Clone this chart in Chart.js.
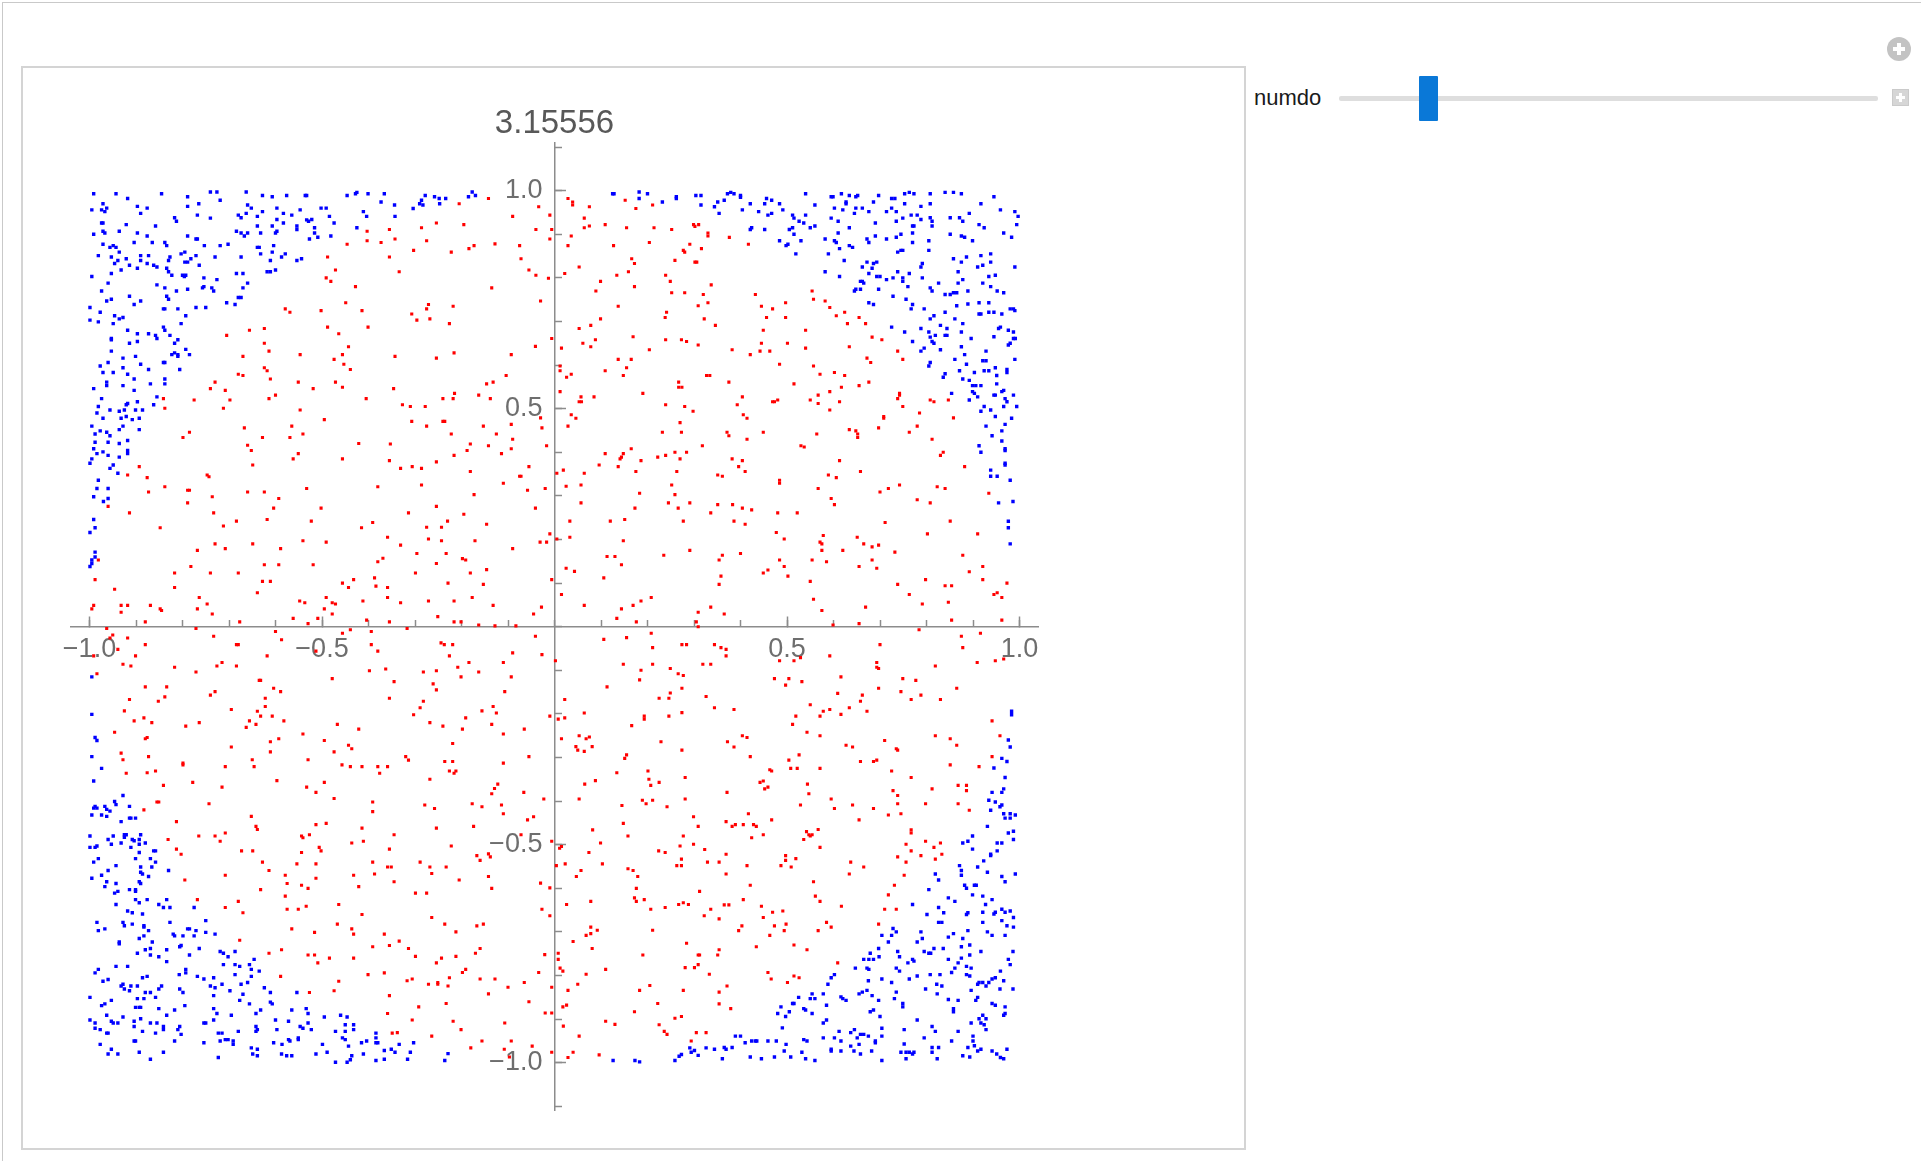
<!DOCTYPE html>
<html>
<head>
<meta charset="utf-8">
<title>numdo</title>
<script src="https://cdn.jsdelivr.net/npm/chart.js@4.4.1/dist/chart.umd.min.js"></script>
<style>
html, body { margin: 0; padding: 0; background: #fff; }
body { width: 1921px; height: 1161px; position: relative; overflow: hidden; font-family: "Liberation Sans", Arial, sans-serif; }
#frame { position: absolute; left: 2px; top: 2px; width: 1960px; height: 1200px; border-top: 1px solid #c9c9c9; border-left: 1px solid #c9c9c9; }
#panel { position: absolute; left: 21px; top: 66px; width: 1221px; height: 1080px; border: 2px solid #d4d4d4; }
#numdo { position: absolute; left: 1254px; top: 85px; font-size: 22px; line-height: 26px; color: #1a1a1a; }
#track { position: absolute; left: 1339px; top: 96px; width: 539px; height: 5px; background: #dedede; border-radius: 2px; }
#thumb { position: absolute; left: 1419px; top: 76px; width: 19px; height: 45px; background: #0a78d7; border-radius: 1px; }
#plus { position: absolute; left: 1887px; top: 37px; width: 24px; height: 24px; border-radius: 50%; background: #c3c3c3; }
#mini { position: absolute; left: 1892px; top: 89px; width: 15px; height: 15px; background: #d6d6d6; border: 1px solid #cacaca; }
.h, .v { position: absolute; background: #fff; }
#plus .h { left: 6px; top: 10px; width: 12px; height: 4px; }
#plus .v { left: 10px; top: 6px; width: 4px; height: 12px; }
#mini .h { left: 3px; top: 6px; width: 9px; height: 3px; }
#mini .v { left: 6px; top: 3px; width: 3px; height: 9px; }
#mycanvas { position: absolute; left: 0; top: 0; }
</style>
</head>
<body>
<div id="frame"></div>
<div id="panel"></div>
<div id="numdo">numdo</div>
<div id="track"></div>
<div id="thumb"></div>
<div id="plus"><span class="h"></span><span class="v"></span></div>
<div id="mini"><span class="h"></span><span class="v"></span></div>
<canvas id="mycanvas" width="1921" height="1161"></canvas>
<script>
// values (estimates)
var estimate = '3.15556';

var xMajorTicks = [-1, -0.5, 0.5, 1];
var xMajorLabels = ['\u22121.0', '\u22120.5', '0.5', '1.0'];
var yMajorTicks = [-1, -0.5, 0.5, 1];
var yMajorLabels = ['\u22121.0', '\u22120.5', '0.5', '1.0'];
var xMinorTicks = [-1, -0.9, -0.8, -0.7, -0.6, -0.5, -0.4, -0.3, -0.2, -0.1, 0, 0.1, 0.2, 0.3, 0.4, 0.5, 0.6, 0.7, 0.8, 0.9, 1];
var yMinorTicks = [-1.1, -1, -0.9, -0.8, -0.7, -0.6, -0.5, -0.4, -0.3, -0.2, -0.1, 0, 0.1, 0.2, 0.3, 0.4, 0.5, 0.6, 0.7, 0.8, 0.9, 1, 1.1];

// points inside the unit circle (red)
var insidePts = [
[-.403,.907],[-.355,.911],[-.403,.885],[-.373,.881],[-.343,.889],[-.446,.877],[-.488,.848],[-.355,.848],[-.471,.818],[-.491,.800],[-.481,.792],[-.428,.780],[-.449,.743],[-.579,.729],[-.569,.721],[-.502,.725],[-.414,.725],[-.705,.668],[-.656,.680],[-.624,.684],[-.488,.687],[-.464,.672],[-.401,.687],[-.624,.650],[-.614,.632],[-.443,.642],[-.670,.620],[-.547,.624],[-.456,.624],[-.474,.613],[-.343,.620],[-.624,.594],[-.618,.587],[-.453,.602],[-.439,.590],[-.680,.579],[-.670,.576],[-.611,.568],[-.730,.561],[-.740,.546],[-.708,.542],[-.551,.561],[-.471,.561],[-.456,.549],[-.519,.546],[-.346,.546],[-.841,.523],[-.838,.501],[-.775,.520],[-.698,.520],[-.712,.501],[-.614,.523],[-.600,.531],[-.405,.523],[-.547,.497],[-.495,.475],[-.667,.456],[-.565,.460],[-.785,.446],[-.799,.434],[-.628,.434],[-.569,.434],[-.541,.442],[-.660,.416],[-.652,.404],[-.421,.420],[-.353,.419],[-.551,.397],[-.562,.385],[-.456,.385],[-.355,.381],[-.649,.371],[-.893,.367],[-.918,.348],[-.747,.348],[-.743,.344],[-.876,.342],
[-.142,.982],[-.205,.970],[-.286,.915],[-.254,.926],[-.195,.922],[-.275,.885],[-.303,.863],[-.222,.859],[-.184,.867],[-.173,.874],[-.128,.878],[-.090,.941],[-.034,.963],[-.010,.944],[-.040,.911],[-.006,.911],[-.010,.889],[-.075,.874],[-.072,.844],[-.055,.818],[-.040,.806],[-.013,.799],[-.334,.814],[-.135,.777],[-.030,.747],[-.307,.717],[-.296,.703],[-.275,.729],[-.271,.739],[-.268,.706],[-.218,.735],[-.226,.695],[-.254,.616],[-.216,.628],[-.093,.624],[-.041,.643],[-.006,.661],[-.104,.576],[-.146,.557],[-.132,.561],[-.163,.531],[-.138,.523],[-.240,.523],[-.218,.523],[-.215,.535],[-.327,.509],[-.310,.505],[-.278,.505],[-.307,.471],[-.275,.460],[-.240,.471],[-.236,.471],[-.222,.442],[-.153,.460],[-.125,.442],[-.093,.464],[-.090,.430],[-.030,.479],[-.027,.456],[-.017,.415],[-.254,.378],[-.216,.393],[-.188,.404],[-.181,.419],[-.142,.415],[-.114,.397],[-.093,.408],[-.331,.363],[-.306,.367],[-.286,.363],[-.181,.356],[-.075,.345],[-.072,.345],[-.055,.367],
[.029,.982],[.039,.974],[.039,.967],[.075,.963],[.152,.978],[.175,.959],[.211,.967],[.064,.937],[.064,.915],[.075,.919],[.109,.922],[.155,.915],[.214,.915],[.252,.911],[.299,.922],[.302,.918],[.310,.922],[.330,.903],[.330,.896],[.036,.896],[.029,.874],[.127,.874],[.204,.881],[.277,.863],[.280,.859],[.291,.877],[.316,.867],[.259,.840],[.302,.836],[.306,.836],[.166,.844],[.172,.833],[.053,.825],[.022,.810],[.134,.806],[.159,.814],[.239,.806],[.249,.792],[.099,.792],[.089,.770],[.172,.780],[.252,.766],[.280,.766],[.320,.762],[.337,.784],[.330,.743],[.309,.736],[.137,.735],[.241,.721],[.238,.709],[.322,.706],[.053,.684],[.078,.691],[.099,.706],[.061,.650],[.078,.642],[.088,.658],[.169,.665],[.204,.635],[.239,.658],[.273,.658],[.284,.654],[.309,.646],[.015,.639],[.012,.598],[.012,.587],[.026,.572],[.036,.579],[.109,.587],[.137,.613],[.148,.576],[.155,.594],[.165,.613],[.327,.576],[.334,.576],[.267,.561],[.267,.549],[.274,.549],[.190,.535],[.085,.527],[.057,.527],[.053,.516],[.058,.516],[.012,.539],[.036,.486],[.046,.478],[.029,.460],[.239,.509],[.280,.505],[.298,.494],[.270,.468],[.273,.446],[.232,.446],[.318,.415],[.109,.397],[.148,.397],[.165,.408],[.141,.385],[.144,.389],[.186,.381],[.222,.389],[.239,.393],[.259,.400],[.270,.385],[.284,.400],[.096,.371],[.137,.367],[.175,.356],[.263,.356],[.019,.359],[.005,.352],[.064,.352],
[.376,.893],[.417,.877],[.432,.762],[.445,.735],[.469,.729],[.497,.743],[.497,.709],[.456,.709],[.449,.680],[.346,.691],[.540,.680],[.445,.650],[.501,.650],[.540,.639],[.442,.632],[.463,.632],[.421,.624],[.382,.635],[.554,.770],[.557,.751],[.582,.747],[.592,.732],[.606,.713],[.624,.721],[.630,.695],[.655,.709],[.669,.695],[.683,.664],[.704,.658],[.634,.642],[.738,.632],[.749,.613],[.672,.616],[.680,.606],[.484,.602],[.557,.598],[.571,.579],[.602,.583],[.624,.576],[.655,.553],[.676,.561],[.617,.549],[.592,.539],[.567,.531],[.550,.520],[.567,.512],[.613,.516],[.592,.497],[.515,.557],[.375,.561],[.404,.527],[.393,.509],[.469,.516],[.473,.516],[.480,.520],[.406,.486],[.414,.478],[.742,.535],[.742,.531],[.738,.523],[.749,.505],[.808,.520],[.816,.516],[.847,.520],[.785,.490],[.858,.479],[.708,.482],[.708,.478],[.697,.456],[.634,.452],[.648,.449],[.652,.442],[.652,.434],[.564,.442],[.449,.446],[.371,.446],[.375,.438],[.414,.430],[.780,.460],[.763,.446],[.812,.430],[.530,.415],[.537,.412],[.836,.400],[.830,.393],[.882,.367],[.382,.385],[.404,.381],[.396,.367],[.410,.356],[.613,.381],[.658,.356],[.589,.348],[.606,.342],[.351,.348],[.361,.345],
[-.960,.276],[-.981,.153],[-.988,.108],[-.991,.049],[-.995,.041],[-.946,.086],[-.932,.049],[-.932,.033],[-.918,.049],[-.914,.261],[-.873,.309],[-.838,.321],[-.848,.227],[-.869,.049],[-.848,.041],[-.845,.037],[-.880,.011],[-.817,.123],[-.817,.090],[-.789,.313],[-.785,.313],[-.789,.284],[-.733,.261],[-.736,.298],[-.712,.231],[-.768,.175],[-.782,.138],[-.740,.123],[-.730,.190],[-.708,.179],[-.764,.067],[-.747,.052],[-.768,.041],[-.736,.029],[-.684,.242],[-.660,.309],[-.624,.309],[-.593,.294],[-.604,.272],[-.618,.246],[-.649,.190],[-.589,.179],[-.680,.123],[-.624,.142],[-.593,.142],[-.628,.104],[-.611,.104],[-.639,.078],[-.677,.011],[-.562,.019],[-.530,.007],[-.509,.019],[-.548,.059],[-.537,.055],[-.495,.041],[-.491,.067],[-.478,.055],[-.471,.052],[-.478,.029],[-.533,.317],[-.502,.272],[-.523,.242],[-.541,.197],[-.491,.194],[-.519,.142],[-.456,.100],[-.443,.090],[-.432,.108],[-.412,.059],[-.404,.015],[-.415,.227],[-.391,.239],[-.380,.321],[-.359,.205],[-.380,.149],[-.369,.157],[-.387,.112],[-.384,.093],[-.359,.090],[-.359,.067],[-.355,.011],
[-.963,-.004],[-.950,-.019],[-.956,-.026],[-.918,-.026],[-.939,-.052],[-.991,-.067],[-.984,-.108],[-.928,-.086],[-.911,-.090],[-.901,-.067],[-.880,-.041],[-.817,-.093],[-.771,-.004],[-.733,-.022],[-.771,-.104],[-.726,-.090],[-.715,-.082],[-.684,-.041],[-.680,-.041],[-.684,-.090],[-.618,-.067],[-.600,-.011],[-.587,-.030],[-.513,-.056],[-.456,-.015],[-.439,-.007],[-.394,-.011],[-.394,-.041],[-.380,-.056],[-.478,-.119],[-.398,-.101],[-.363,-.097],[-.345,-.126],[-.355,-.164],[-.635,-.123],[-.632,-.123],[-.604,-.141],[-.589,-.149],[-.622,-.164],[-.622,-.183],[-.639,-.194],[-.632,-.205],[-.607,-.205],[-.582,-.216],[-.695,-.190],[-.656,-.216],[-.663,-.231],[-.642,-.224],[-.740,-.157],[-.730,-.149],[-.764,-.220],[-.793,-.228],[-.834,-.138],[-.838,-.161],[-.852,-.171],[-.880,-.138],[-.914,-.167],[-.925,-.193],[-.904,-.216],[-.883,-.209],[-.866,-.220],[-.946,-.242],[-.876,-.254],[-.880,-.257],[-.932,-.290],[-.928,-.305],[-.873,-.298],[-.921,-.336],[-.876,-.335],[-.858,-.331],[-.799,-.313],[-.799,-.317],[-.708,-.321],[-.695,-.276],[-.650,-.305],[-.646,-.321],[-.611,-.264],[-.593,-.257],[-.611,-.287],[-.541,-.246],[-.530,-.305],[-.495,-.261],[-.474,-.287],[-.467,-.224],[-.421,-.235],[-.443,-.272],[-.436,-.280],[-.457,-.317],[-.439,-.321],[-.414,-.321],[-.380,-.321],[-.376,-.336],[-.359,-.321],
[-.286,.325],[-.110,.329],[-.058,.313],[-.020,.317],[-.173,.303],[-.254,.276],[-.314,.261],[-.195,.258],[-.041,.272],[-.230,.242],[-.275,.228],[-.243,.228],[-.146,.235],[-.271,.201],[-.243,.197],[-.171,.197],[-.331,.187],[-.296,.168],[-.233,.168],[-.090,.179],[-.031,.194],[-.017,.194],[-.010,.213],[.005,.201],[-.254,.145],[-.198,.156],[-.191,.153],[-.299,.123],[-.181,.123],[-.146,.131],[-.229,.100],[-.153,.097],[-.006,.108],[-.331,.055],[-.271,.059],[-.216,.059],[-.177,.067],[-.132,.049],[-.251,.023],[-.216,.011],[-.201,.011],[-.163,.004],[-.128,.002],[-.083,.002],[-.045,.029],[-.028,.045],[-.317,-.004],[.015,.074],[.025,.134],[.043,.127],[.025,.322],[.057,.325],[.057,.284],[.033,.242],[.033,.205],[.120,.242],[.151,.246],[.183,.306],[.173,.272],[.148,.197],[.113,.161],[.130,.161],[.144,.142],[.106,.112],[.064,.049],[.134,.019],[.144,.041],[.169,.049],[.186,.059],[.208,.067],[.176,.011],[.252,.325],[.259,.303],[.245,.284],[.266,.272],[.291,.284],[.336,.261],[.277,.242],[.235,.164],[.291,.175],[.309,.033],[.336,.045],[.305,.011],[.309,.000],
[-.244,-.037],[-.237,-.041],[-.219,-.041],[-.226,-.067],[-.041,-.022],[-.027,-.064],[-.090,-.060],[-.184,-.082],[-.208,-.093],[-.163,-.104],[-.201,-.115],[-.254,-.101],[-.282,-.104],[-.261,-.131],[-.254,-.145],[-.110,-.082],[-.093,-.115],[-.107,-.149],[-.282,-.171],[-.289,-.186],[-.303,-.202],[-.268,-.220],[-.240,-.228],[-.191,-.209],[-.198,-.235],[-.156,-.193],[-.132,-.183],[-.125,-.198],[-.135,-.224],[-.110,-.246],[-.065,-.235],[-.219,-.268],[-.320,-.298],[-.314,-.306],[-.236,-.309],[-.219,-.309],[-.226,-.331],[-.212,-.331],[-.216,-.336],[-.110,-.313],[-.055,-.298],[-.010,-.205],[.002,-.078],[.008,-.212],[.022,-.167],[.022,-.209],[.015,-.257],[.053,-.250],[.068,-.257],[.075,-.253],[.064,-.198],[.046,-.275],[.050,-.283],[.064,-.286],[.081,-.275],[.106,-.029],[.155,-.025],[.113,-.138],[.148,-.086],[.186,-.100],[.183,-.122],[.208,-.015],[.211,-.048],[.211,-.086],[.166,-.227],[.193,-.205],[.193,-.212],[.225,-.164],[.246,-.164],[.249,-.152],[.249,-.096],[.266,-.108],[.277,-.112],[.274,-.141],[.274,-.041],[.284,-.041],[.319,-.086],[.336,-.086],[.326,-.160],[.246,-.205],[.274,-.197],[.229,-.264],[.274,-.283],[.155,-.294],[.151,-.302],[.134,-.335],[.201,-.331],
[.484,.336],[.484,.329],[.567,.317],[.595,.294],[.602,.280],[.351,.280],[.383,.280],[.404,.272],[.424,.268],[.386,.242],[.410,.235],[.480,.261],[.522,.261],[.477,.216],[.494,.201],[.578,.209],[.571,.194],[.575,.190],[.575,.175],[.651,.205],[.665,.190],[.683,.183],[.697,.187],[.620,.175],[.732,.171],[.711,.239],[.700,.309],[.718,.317],[.742,.325],[.780,.291],[.808,.284],[.823,.321],[.840,.317],[.934,.306],[.851,.242],[.802,.213],[.910,.213],[.878,.164],[.921,.138],[.892,.126],[.921,.108],[.973,.100],[.945,.074],[.952,.078],[.962,.067],[.962,.015],[.354,.153],[.361,.164],[.400,.168],[.484,.153],[.494,.138],[.502,.116],[.449,.123],[.459,.130],[.358,.116],[.354,.097],[.365,.029],[.550,.104],[.554,.153],[.585,.149],[.557,.063],[.575,.037],[.599,.004],[.655,.138],[.683,.153],[.693,.134],[.669,.045],[.655,.007],[.738,.097],[.763,.074],[.798,.108],[.791,.052],[.840,.094],[.854,.094],[.847,.056],[.854,.015],
[.784,-.007],[.916,-.015],[.875,-.022],[.878,-.048],[.909,-.082],[.948,-.078],[.966,-.074],[.344,-.041],[.358,-.048],[.369,-.052],[.369,-.067],[.484,-.078],[.515,-.078],[.529,-.071],[.592,-.067],[.700,-.041],[.693,-.082],[.697,-.096],[.693,-.093],[.697,-.141],[.473,-.119],[.504,-.119],[.497,-.134],[.532,-.126],[.616,-.115],[.609,-.153],[.662,-.157],[.658,-.171],[.749,-.119],[.777,-.123],[.745,-.149],[.767,-.167],[.788,-.157],[.819,-.090],[.830,-.167],[.865,-.141],[.344,-.186],[.386,-.190],[.550,-.179],[.519,-.205],[.512,-.224],[.571,-.205],[.578,-.194],[.592,-.190],[.616,-.201],[.634,-.186],[.672,-.194],[.543,-.242],[.571,-.250],[.404,-.250],[.414,-.254],[.372,-.264],[.386,-.276],[.421,-.298],[.504,-.306],[.526,-.294],[.463,-.328],[.467,-.331],[.508,-.325],[.522,-.325],[.571,-.325],[.627,-.272],[.641,-.276],[.658,-.309],[.686,-.309],[.693,-.306],[.710,-.261],[.735,-.280],[.738,-.283],[.725,-.331],[.819,-.250],[.851,-.257],[.865,-.272],[.851,-.317],[.913,-.321],[.941,-.216],[.958,-.250],[.941,-.298],
[-.841,-.364],[-.778,-.357],[-.715,-.368],[-.597,-.353],[-.533,-.368],[-.495,-.357],[-.513,-.380],[-.474,-.394],[-.391,-.402],[-.391,-.424],[-.855,-.402],[-.851,-.402],[-.883,-.420],[-.743,-.406],[-.813,-.447],[-.831,-.488],[-.813,-.510],[-.803,-.522],[-.765,-.480],[-.730,-.480],[-.719,-.492],[-.708,-.473],[-.652,-.435],[-.642,-.458],[-.639,-.465],[-.673,-.514],[-.649,-.514],[-.628,-.540],[-.614,-.559],[-.708,-.570],[-.795,-.581],[-.632,-.603],[-.768,-.626],[-.708,-.644],[-.670,-.656],[-.680,-.630],[-.544,-.480],[-.541,-.484],[-.527,-.477],[-.513,-.454],[-.491,-.451],[-.506,-.506],[-.502,-.514],[-.544,-.518],[-.554,-.544],[-.513,-.544],[-.579,-.570],[-.575,-.589],[-.544,-.593],[-.530,-.600],[-.513,-.577],[-.579,-.618],[-.575,-.648],[-.551,-.648],[-.534,-.641],[-.464,-.637],[-.414,-.462],[-.436,-.496],[-.411,-.492],[-.345,-.477],[-.355,-.510],[-.391,-.540],[-.359,-.551],[-.351,-.551],[-.387,-.567],[-.432,-.570],[-.421,-.596],[-.345,-.585],[-.414,-.660],[-.467,-.682],[-.436,-.693],[-.432,-.705],[-.565,-.693],[-.516,-.701],[-.366,-.705],[-.677,-.719],[-.587,-.741],[-.614,-.749],[-.530,-.753],[-.516,-.753],[-.509,-.771],[-.484,-.760],[-.432,-.760],[-.391,-.734],[-.355,-.731],[-.589,-.802],[-.527,-.839],[-.474,-.835],[-.464,-.813],[-.401,-.798],[-.366,-.794],[-.355,-.846],[-.359,-.887],[-.349,-.932],
[-.268,-.350],[-.129,-.371],[-.122,-.361],[-.135,-.383],[-.066,-.380],[-.023,-.395],[-.279,-.409],[-.258,-.417],[-.177,-.406],[-.156,-.413],[-.114,-.409],[-.110,-.429],[-.058,-.443],[-.045,-.436],[-.254,-.462],[-.174,-.458],[-.072,-.477],[-.222,-.503],[-.006,-.492],[-.167,-.525],[-.160,-.536],[-.142,-.521],[-.138,-.528],[-.289,-.540],[-.268,-.551],[-.264,-.566],[-.233,-.551],[-.205,-.581],[-.142,-.573],[-.135,-.600],[-.299,-.611],[-.275,-.611],[-.030,-.588],[-.010,-.599],[-.027,-.648],[-.010,-.663],[-.264,-.667],[-.236,-.682],[-.212,-.700],[-.167,-.686],[-.153,-.682],[-.334,-.721],[-.314,-.738],[-.299,-.756],[-.254,-.771],[-.243,-.760],[-.212,-.756],[-.170,-.749],[-.160,-.738],[-.021,-.752],[-.034,-.793],[-.198,-.793],[-.191,-.786],[-.226,-.805],[-.317,-.812],[-.306,-.808],[-.271,-.820],[-.251,-.816],[-.251,-.820],[-.229,-.824],[-.160,-.808],[-.128,-.808],[-.142,-.842],[-.100,-.827],[-.065,-.816],[-.233,-.864],[-.292,-.872],[-.306,-.902],[-.218,-.905],[-.201,-.924],[-.107,-.909],[-.055,-.860],[-.020,-.886],[-.338,-.931],[-.264,-.939],[-.156,-.950],[-.093,-.950],[-.180,-.966],[-.108,-.969],[-.097,-.987],[-.048,-.962],[-.006,-.976],[-.006,-.827],[-.006,-.886],
[.011,-.508],[.015,-.504],[.004,-.548],[.023,-.544],[.065,-.361],[.088,-.353],[.053,-.395],[.082,-.466],[.099,-.496],[.074,-.518],[.057,-.559],[.047,-.573],[.103,-.544],[.026,-.637],[.078,-.630],[.078,-.689],[.068,-.708],[.078,-.704],[.092,-.696],[.040,-.722],[.081,-.738],[.008,-.749],[.008,-.763],[.012,-.783],[.018,-.790],[.068,-.797],[.110,-.786],[.050,-.820],[.029,-.834],[.018,-.872],[.026,-.868],[.019,-.916],[.110,-.905],[.130,-.912],[.053,-.939],[.096,-.982],[.029,-.988],[.040,-.976],[.145,-.410],[.148,-.451],[.158,-.480],[.189,-.398],[.197,-.406],[.211,-.398],[.203,-.350],[.207,-.364],[.225,-.357],[.242,-.413],[.281,-.346],[.281,-.395],[.299,-.436],[.309,-.458],[.277,-.480],[.299,-.499],[.323,-.511],[.224,-.514],[.238,-.518],[.270,-.503],[.273,-.533],[.263,-.548],[.273,-.548],[.329,-.540],[.158,-.555],[.169,-.559],[.179,-.573],[.176,-.600],[.172,-.622],[.176,-.630],[.193,-.626],[.207,-.648],[.238,-.644],[.267,-.637],[.277,-.633],[.288,-.637],[.312,-.607],[.336,-.648],[.322,-.663],[.211,-.696],[.190,-.753],[.284,-.726],[.309,-.753],[.312,-.753],[.281,-.782],[.301,-.782],[.309,-.775],[.333,-.797],[.205,-.823],[.183,-.834],[.277,-.834],[.222,-.864],[.172,-.883],[.225,-.913],[.236,-.928],[.242,-.935],[.259,-.898],[.273,-.894],[.294,-.950],[.305,-.931],[.326,-.931],
[.371,-.380],[.442,-.357],[.449,-.354],[.452,-.372],[.459,-.368],[.544,-.361],[.547,-.383],[.529,-.409],[.595,-.395],[.602,-.417],[.641,-.409],[.686,-.417],[.728,-.376],[.738,-.387],[.738,-.406],[.767,-.346],[.812,-.372],[.798,-.406],[.868,-.364],[.886,-.364],[.886,-.376],[.868,-.406],[.892,-.421],[.718,-.432],[.745,-.429],[.655,-.443],[.417,-.429],[.467,-.443],[.369,-.447],[.382,-.458],[.389,-.454],[.406,-.454],[.428,-.454],[.434,-.458],[.449,-.477],[.424,-.484],[.542,-.470],[.547,-.477],[.550,-.480],[.554,-.477],[.567,-.465],[.536,-.488],[.571,-.506],[.767,-.466],[.767,-.473],[.756,-.499],[.767,-.514],[.798,-.492],[.816,-.506],[.830,-.496],[.833,-.522],[.788,-.525],[.819,-.533],[.738,-.528],[.756,-.540],[.752,-.570],[.731,-.593],[.718,-.615],[.710,-.648],[.735,-.648],[.697,-.682],[.369,-.522],[.354,-.540],[.369,-.567],[.414,-.548],[.487,-.548],[.497,-.525],[.497,-.536],[.509,-.551],[.519,-.532],[.421,-.593],[.406,-.626],[.365,-.638],[.375,-.638],[.354,-.670],[.445,-.641],[.449,-.667],[.469,-.655],[.491,-.652],[.473,-.686],[.498,-.682],[.494,-.697],[.403,-.686],[.396,-.697],[.463,-.708],[.557,-.585],[.561,-.618],[.571,-.630],[.617,-.641],[.637,-.540],[.634,-.567],[.665,-.551],[.585,-.678],[.595,-.689],[.567,-.697],[.434,-.734],[.515,-.730],[.543,-.741],[.354,-.741],[.351,-.753],[.609,-.771],[.459,-.793],[.466,-.808],[.515,-.801],[.526,-.805],[.501,-.816],[.371,-.824],[.354,-.838],[.354,-.865],[.379,-.876]
];

// points outside the unit circle (blue)
var outsidePts = [
[-.991,.993],[-.943,.993],[-.918,.982],[-.845,.993],[-.789,.986],[-.740,.997],[-.726,.997],[-.719,.978],[-.663,.997],[-.628,.989],[-.607,.986],[-.576,.989],[-.536,.989],[-.533,.989],[-.446,.989],[-.428,.993],[-.425,.996],[-.401,.993],[-.366,.993],[-.373,.974],[-.344,.967],
[-.995,.956],[-.971,.970],[-.974,.956],[-.963,.960],[-.967,.952],[-.890,.948],[-.897,.964],[-.876,.960],[-.789,.964],[-.765,.970],[-.768,.944],[-.740,.937],[-.817,.938],[-.813,.930],[-.680,.944],[-.674,.938],[-.663,.948],[-.660,.967],[-.652,.960],[-.628,.952],[-.639,.941],[-.597,.960],[-.583,.948],[-.565,.944],[-.547,.956],[-.502,.960],[-.491,.960],[-.484,.941],[-.533,.933],[-.522,.934],[-.529,.930],[-.474,.926],[-.411,.952],[-.404,.941],[-.343,.941],
[-.974,.926],[-.971,.926],[-.921,.922],[-.858,.919],[-.639,.919],[-.607,.919],[-.597,.934],[-.583,.926],[-.554,.919],[-.554,.911],[-.516,.915],[-.516,.903],[-.425,.915],[-.991,.900],[-.971,.907],[-.967,.903],[-.936,.907],[-.897,.903],[-.876,.896],[-.789,.896],[-.771,.889],[-.768,.889],[-.684,.907],[-.674,.903],[-.667,.896],[-.660,.903],[-.632,.903],[-.597,.907],[-.600,.903],[-.527,.889],[-.509,.893],[-.481,.896],
[-.971,.877],[-.956,.870],[-.949,.874],[-.943,.870],[-.936,.859],[-.904,.881],[-.865,.881],[-.838,.881],[-.834,.874],[-.753,.874],[-.719,.874],[-.702,.877],[-.639,.870],[-.635,.870],[-.604,.874],[-.632,.855],[-.607,.859],[-.579,.855],[-.587,.848],[-.611,.840],[-.554,.840],[-.544,.844],[-.674,.848],
[-.981,.851],[-.953,.848],[-.946,.833],[-.939,.840],[-.921,.844],[-.932,.818],[-.914,.829],[-.897,.822],[-.890,.851],[-.890,.840],[-.876,.833],[-.873,.851],[-.862,.829],[-.855,.825],[-.830,.840],[-.827,.848],[-.834,.822],[-.830,.814],[-.823,.806],[-.803,.855],[-.795,.859],[-.795,.836],[-.789,.836],[-.782,.844],[-.771,.851],[-.764,.829],[-.730,.848],[-.800,.806],[-.793,.806],[-.796,.803],
[-.995,.803],[-.953,.810],[-.960,.788],[-.974,.770],[-.963,.747],[-.953,.751],[-.914,.758],[-.904,.739],[-.890,.747],[-.855,.784],[-.838,.777],[-.813,.770],[-.789,.774],[-.834,.758],[-.830,.751],[-.754,.800],[-.726,.796],[-.757,.777],[-.754,.780],[-.737,.777],[-.733,.770],[-.684,.810],[-.670,.810],[-.660,.788],[-.670,.777],[-.680,.755],[-.674,.755],[-.705,.743],[-.687,.739],[-.618,.814],[-.611,.814],[-.600,.818],
[-.999,.732],[-.977,.721],[-.999,.703],[-.981,.699],[-.946,.713],[-.949,.695],[-.936,.706],[-.928,.709],[-.841,.729],[-.838,.729],[-.810,.729],[-.771,.732],[-.750,.732],[-.793,.713],[-.803,.695],
[-.918,.680],[-.897,.672],[-.873,.672],[-.841,.687],[-.838,.680],[-.858,.668],[-.855,.661],[-.827,.668],[-.810,.658],[-.817,.650],[-.953,.661],[-.953,.658],[-.914,.650],[-.897,.654],[-.953,.632],[-.928,.616],[-.901,.620],[-.890,.602],[-.841,.606],[-.838,.606],[-.823,.624],[-.817,.628],[-.810,.624],[-.810,.620],[-.793,.636],[-.785,.624],[-.806,.590],[-.873,.590],
[-.977,.598],[-.960,.606],[-.971,.583],[-.949,.583],[-.928,.594],[-.918,.579],[-.904,.568],[-.963,.561],[-.963,.553],[-.991,.546],[-.928,.553],[-.904,.542],[-.869,.557],[-.838,.568],[-.838,.557],[-.855,.527],[-.862,.509],
[-.974,.523],[-.981,.505],[-.956,.497],[-.921,.509],[-.918,.512],[-.897,.516],[-.936,.494],[-.925,.497],[-.901,.497],[-.886,.497],[-.984,.490],[-.932,.478],[-.921,.482],[-.908,.475],[-.893,.478],[-.971,.478],[-.995,.460],[-.988,.442],[-.977,.449],[-.963,.446],[-.956,.438],[-.936,.452],[-.928,.460],[-.893,.452],[-.960,.423],[-.988,.423],[-.936,.420],[-.918,.427],[-.991,.408],[-.984,.397],[-.971,.401],[-.960,.393],[-.918,.404],[-.918,.397],[-.936,.389],[-.995,.385],[-.999,.375],[-.949,.371],[-.956,.363],[-.939,.352],
[-.304,.959],[-.290,.970],[-.286,.978],[-.283,.967],[-.278,.989],[-.258,.986],[-.248,.982],[-.247,.970],[-.234,.982],[-.185,.986],[-.177,.997],[-.170,.989],[.125,.993],[.128,.993],[.182,.997],[.182,.982],[.200,.993],[.232,.974],[.262,.986],[.262,.982],[.304,.989],[.315,.989],[.315,.967],
[.372,.993],[.379,.996],[.386,.993],[.400,.989],[.400,.985],[.351,.974],[.344,.963],[.365,.978],[.354,.948],[.421,.970],[.404,.956],[.439,.952],[.452,.970],[.456,.982],[.467,.978],[.459,.944],[.467,.948],[.484,.970],[.491,.956],[.540,.993],[.512,.944],[.515,.937],[.540,.944],[.560,.967],[.526,.930],[.536,.926],[.550,.915],[.560,.919],[.424,.915],[.421,.911],[.452,.911],[.505,.911],[.512,.915],[.515,.900],[.484,.885],[.498,.874],[.502,.877],[.530,.885],[.519,.855],
[.595,.986],[.599,.986],[.617,.993],[.634,.989],[.648,.986],[.652,.989],[.627,.974],[.627,.970],[.602,.960],[.620,.956],[.648,.960],[.645,.948],[.662,.960],[.676,.952],[.686,.974],[.697,.989],[.725,.982],[.732,.982],[.753,.993],[.763,.996],[.773,.993],[.753,.970],[.725,.960],[.714,.952],[.735,.952],[.788,.964],[.808,.993],[.808,.970],[.840,.996],[.858,.996],[.875,.993],[.917,.970],[.945,.986],[.959,.956],[.990,.952],[.997,.941],[.994,.922],
[.595,.937],[.610,.930],[.634,.915],[.690,.926],[.690,.896],[.672,.889],[.676,.881],[.610,.903],[.582,.889],[.602,.885],[.606,.881],[.613,.867],[.634,.874],[.641,.870],[.589,.855],
[.735,.930],[.749,.937],[.767,.944],[.780,.944],[.788,.934],[.808,.938],[.812,.930],[.812,.919],[.770,.919],[.773,.919],[.770,.903],[.745,.900],[.735,.893],[.714,.889],[.770,.881],[.805,.885],[.805,.863],[.738,.859],[.745,.863],[.749,.863],
[.851,.938],[.871,.938],[.878,.930],[.892,.948],[.913,.922],[.924,.915],[.966,.903],[.983,.893],[.851,.900],[.875,.896],[.882,.893],[.899,.885],
[.623,.840],[.582,.814],[.613,.803],[.662,.825],[.672,.836],[.686,.833],[.693,.836],[.676,.810],[.683,.822],[.693,.803],[.700,.803],[.658,.792],[.662,.792],[.665,.788],[.658,.774],[.645,.770],[.648,.774],[.697,.774],[.714,.796],[.728,.800],[.738,.814],[.749,.800],[.749,.792],[.763,.810],[.760,.780],[.791,.833],[.788,.825],[.791,.800],[.728,.758],[.676,.743],[.686,.739],[.756,.751],[.770,.739],[.767,.729],[.795,.729],[.808,.777],[.812,.770],[.826,.788],[.840,.762],[.851,.762],[.858,.766],[.865,.766],[.868,.788],[.878,.796],[.889,.770],
[.858,.844],[.875,.836],[.886,.848],[.868,.814],[.910,.825],[.917,.851],[.921,.829],[.938,.855],[.938,.836],[.934,.803],[.948,.806],[.921,.788],[.938,.780],[.952,.770],[.966,.766],[.990,.825],
[.808,.706],[.816,.713],[.840,.721],[.830,.691],[.844,.684],[.861,.706],[.865,.736],[.878,.695],[.889,.740],[.913,.717],[.917,.717],[.934,.721],[.945,.721],[.962,.717],[.913,.743],[.934,.743],[.980,.729],[.987,.729],[.990,.725],
[.725,.687],[.753,.676],[.788,.684],[.805,.676],[.808,.664],[.819,.668],[.812,.654],[.816,.650],[.770,.654],[.844,.668],[.840,.668],[.875,.676],[.896,.661],[.955,.684],[.959,.687],[.976,.680],[.987,.676],[.945,.665],[.987,.661],[.991,.661],[.976,.646],[.980,.650],
[.795,.639],[.788,.632],[.830,.635],[.875,.642],[.882,.624],[.861,.613],[.808,.606],[.805,.598],[.921,.610],[.928,.610],[.928,.632],[.990,.613],[.871,.587],[.886,.602],[.903,.583],[.924,.587],[.934,.587],[.948,.594],[.951,.576],[.973,.590],[.973,.583],[.840,.580],[.836,.572],[.878,.568],[.892,.565],[.899,.553],[.906,.553],[.917,.553],[.951,.557],[.899,.539],[.903,.535],[.910,.527],[.854,.535],[.892,.520],[.945,.531],[.948,.531],[.966,.542],[.962,.539],[.969,.523],[.973,.516],[.987,.531],
[.924,.505],[.917,.494],[.938,.497],[.948,.482],[.966,.505],[.994,.505],[.983,.478],[.969,.464],[.962,.449],[.928,.460],[.941,.438],[.962,.426],[.913,.415],[.917,.400],[.969,.408],[.969,.404],[.969,.375],[.969,.371],[.938,.359],[.952,.345],[.938,.345],
[-.981,.336],[-.984,.317],[-.960,.317],[-.991,.298],[-.970,.287],[-.960,.294],[-.991,.246],[-.988,.227],[-.999,.216],[-.988,.171],[-.988,.160],[-.995,.153],[-.995,.145],[-.999,.138],[-.995,-.115],[-.995,-.201],[-.988,-.254],[-.984,-.261],[-.995,-.298],[-.974,-.325],
[.980,.336],[.955,.284],[.986,.287],[.976,.242],[.976,.227],[.980,.190],[.983,-.194],[.983,-.202],[.976,-.260],[.980,-.276],[.962,-.302],[.973,-.309],[.945,-.324],
[-.991,-.354],[-.928,-.387],[-.946,-.401],[-.943,-.408],[-.988,-.412],[-.991,-.416],[-.984,-.416],[-.967,-.412],[-.963,-.419],[-.956,-.423],[-.914,-.412],[-.995,-.432],[-.974,-.432],[-.963,-.435],[-.914,-.439],[-.911,-.439],[-.901,-.439],[-.932,-.447],[-.999,-.480],[-.960,-.488],[-.949,-.480],[-.953,-.499],[-.925,-.477],[-.925,-.483],[-.921,-.477],[-.932,-.496],[-.904,-.491],[-.908,-.488],[-.893,-.488],[-.890,-.477],[-.880,-.496],[-.893,-.499],[-.999,-.506],[-.988,-.506],[-.984,-.503],[-.911,-.506],[-.893,-.518],[-.862,-.514],[-.858,-.514],[-.991,-.540],[-.981,-.532],[-.943,-.548],[-.901,-.532],[-.890,-.551],[-.890,-.563],[-.886,-.567],[-.869,-.532],[-.858,-.540],[-.866,-.551],[-.873,-.573],[-.830,-.559],[-.995,-.577],[-.974,-.570],[-.960,-.559],[-.963,-.585],[-.967,-.596],[-.943,-.589],[-.893,-.585],[-.890,-.589],[-.946,-.611],[-.939,-.607],[-.914,-.603],[-.901,-.603],[-.901,-.607],[-.943,-.637],[-.901,-.626],[-.893,-.633],[-.876,-.626],[-.851,-.637],[-.841,-.644],[-.827,-.644],[-.834,-.626],[-.775,-.644],[-.918,-.652],[-.908,-.656],[-.886,-.659],[-.928,-.678],[-.925,-.686],[-.908,-.682],[-.883,-.686],[-.883,-.689],[-.873,-.697],[-.984,-.678],[-.981,-.697],[-.967,-.693],[-.827,-.678],[-.820,-.705],[-.817,-.709],[-.799,-.709],[-.789,-.693],[-.785,-.693],[-.771,-.697],[-.775,-.709],[-.750,-.674],[-.750,-.701],[-.730,-.705],[-.893,-.715],[-.865,-.723],[-.883,-.709],[-.936,-.723],[-.936,-.727],[-.880,-.741],[-.869,-.738],[-.897,-.749],[-.869,-.753],[-.851,-.757],[-.834,-.741],[-.834,-.768],[-.806,-.734],[-.803,-.731],[-.785,-.753],[-.764,-.738],[-.719,-.745],[-.712,-.749],[-.702,-.757],[-.687,-.745],
[-.943,-.779],[-.918,-.779],[-.988,-.794],[-.981,-.786],[-.971,-.813],[-.960,-.809],[-.932,-.824],[-.928,-.820],[-.911,-.824],[-.897,-.824],[-.925,-.831],[-.914,-.835],[-.886,-.805],[-.876,-.802],[-.880,-.839],[-.869,-.839],[-.845,-.824],[-.851,-.831],[-.858,-.850],[-.999,-.850],[-.974,-.869],[-.967,-.865],[-.953,-.857],[-.897,-.853],[-.883,-.853],[-.901,-.873],[-.893,-.873],[-.890,-.873],[-.851,-.876],[-.834,-.891],[-.963,-.891],[-.928,-.895],[-.999,-.902],[-.988,-.909],[-.988,-.921],[-.977,-.924],[-.963,-.932],[-.960,-.932],[-.953,-.905],[-.949,-.909],[-.939,-.909],[-.904,-.905],[-.904,-.917],[-.890,-.899],[-.869,-.909],[-.855,-.909],[-.841,-.917],[-.841,-.924],[-.886,-.928],[-.858,-.932],[-.977,-.958],[-.953,-.969],[-.960,-.980],[-.939,-.980],[-.904,-.950],[-.901,-.950],[-.893,-.976],[-.869,-.992],[-.841,-.976],[-.817,-.950],[-.806,-.917],[-.810,-.924],[-.803,-.935],[-.807,-.798],[-.793,-.786],[-.793,-.794],[-.806,-.831],[-.799,-.839],[-.768,-.802],[-.754,-.808],[-.733,-.805],[-.740,-.824],[-.730,-.828],[-.715,-.820],[-.733,-.846],[-.698,-.835],[-.795,-.869],[-.817,-.879],[-.733,-.876],[-.726,-.887],[-.695,-.891],[-.733,-.902],[-.754,-.909],[-.750,-.909],[-.723,-.932],[-.715,-.932],[-.754,-.954],[-.719,-.950],[-.708,-.947],[-.702,-.947],[-.691,-.950],[-.691,-.958],[-.723,-.988],
[-.712,-.775],[-.687,-.775],[-.677,-.779],[-.687,-.798],[-.656,-.775],[-.646,-.763],[-.652,-.786],[-.635,-.790],[-.652,-.802],[-.660,-.816],[-.674,-.820],[-.670,-.843],[-.624,-.828],[-.611,-.839],[-.607,-.865],[-.611,-.861],[-.677,-.857],[-.656,-.865],[-.642,-.887],[-.632,-.879],[-.680,-.928],[-.642,-.917],[-.642,-.928],[-.639,-.924],[-.597,-.924],[-.600,-.902],[-.572,-.905],[-.565,-.879],[-.554,-.839],[-.534,-.876],[-.530,-.887],[-.547,-.917],[-.541,-.921],[-.530,-.909],[-.523,-.924],[-.551,-.943],[-.551,-.947],[-.572,-.947],[-.569,-.950],[-.604,-.954],[-.586,-.958],[-.652,-.966],[-.639,-.969],[-.649,-.980],[-.639,-.984],[-.587,-.980],[-.576,-.984],[-.565,-.984],[-.499,-.958],[-.489,-.976],[-.513,-.980],[-.495,-.895],[-.471,-.928],[-.460,-.891],[-.446,-.895],[-.450,-.913],[-.450,-.928],[-.432,-.913],[-.432,-.924],[-.456,-.943],[-.450,-.947],[-.443,-.962],[-.436,-.984],[-.439,-.993],[-.446,-.999],[-.471,-.999],[-.411,-.980],[-.415,-.954],[-.404,-.950],[-.384,-.932],[-.384,-.943],[-.384,-.954],[-.380,-.954],[-.366,-.972],[-.351,-.969],[-.343,-.976],[-.384,-.995],[-.366,-.992],
[-.334,-.958],[-.316,-.992],[-.310,-.976],[-.303,-.954],[-.236,-.995],[-.229,-.979],[.126,-.995],[.173,-.995],[.183,-.998],[.259,-.995],[.268,-.985],[.273,-.981],[.291,-.966],[.294,-.976],[.301,-.972],[.309,-.983],[.326,-.966],
[.969,-.346],[.966,-.372],[.962,-.380],[.941,-.380],[.934,-.398],[.948,-.402],[.958,-.413],[.962,-.409],[.938,-.421],[.966,-.429],[.969,-.439],[.980,-.429],[.991,-.432],[.980,-.439],[.931,-.458],[.976,-.473],[.987,-.469],[.987,-.488],[.899,-.480],[.889,-.492],[.878,-.496],[.899,-.510],[.952,-.496],[.962,-.496],[.952,-.514],[.938,-.522],[.938,-.525],[.923,-.537],[.910,-.551],[.871,-.548],[.875,-.559],[.875,-.570],[.931,-.563],[.962,-.573],[.969,-.585],[.991,-.567],[.819,-.567],[.826,-.581],[.805,-.603],[.882,-.593],[.886,-.600],[.903,-.593],[.907,-.593],[.899,-.615],[.921,-.618],[.941,-.626],[.927,-.637],[.847,-.622],[.861,-.630],[.770,-.637],[.801,-.660],[.826,-.644],[.837,-.656],[.833,-.678],[.826,-.678],[.886,-.660],[.889,-.656],[.921,-.655],[.921,-.678],[.945,-.659],[.948,-.655],[.962,-.648],[.969,-.655],[.980,-.652],[.962,-.674],[.973,-.686],[.987,-.667],[.987,-.689],[.931,-.700],[.941,-.708],[.969,-.708],[.889,-.697],[.858,-.704],[.847,-.712],[.878,-.715],[.788,-.700],[.791,-.715],[.780,-.723],[.816,-.738],[.795,-.745],[.805,-.749],[.809,-.749],[.836,-.738],[.875,-.734],[.893,-.730],[.893,-.753],[.917,-.745],[.986,-.745],
[.728,-.692],[.735,-.700],[.704,-.708],[.725,-.708],[.718,-.723],[.697,-.738],[.679,-.749],[.738,-.745],[.742,-.757],[.698,-.757],[.665,-.763],[.676,-.763],[.686,-.763],[.647,-.783],[.672,-.783],[.676,-.786],[.735,-.783],[.742,-.790],[.760,-.771],[.770,-.763],[.773,-.767],[.847,-.763],[.868,-.771],[.875,-.760],[.861,-.783],[.854,-.793],[.896,-.783],[.886,-.779],[.886,-.798],[.893,-.801],[.976,-.763],[.980,-.775],[.959,-.790],[.948,-.805],[.941,-.808],[.966,-.812],[.958,-.831],[.986,-.831],[.934,-.816],[.921,-.816],[.913,-.816],[.928,-.824],[.910,-.820],[.896,-.834],[.910,-.850],[.906,-.857],[.941,-.864],[.948,-.868],[.969,-.872],[.966,-.891],[.969,-.887],[.921,-.891],[.928,-.899],[.913,-.899],[.917,-.909],[.924,-.913],[.928,-.924],[.896,-.909],[.868,-.928],[.900,-.939],[.900,-.950],[.903,-.961],[.910,-.973],[.917,-.969],[.889,-.965],[.878,-.984],[.893,-.987],[.941,-.973],[.951,-.980],[.959,-.988],[.966,-.991],[.973,-.969],
[.812,-.965],[.812,-.976],[.826,-.965],[.823,-.991],[.854,-.950],[.812,-.917],[.819,-.928],[.795,-.943],[.847,-.855],[.858,-.876],[.858,-.883],[.868,-.857],[.798,-.831],[.822,-.820],[.833,-.824],[.829,-.798],[.808,-.798],[.780,-.801],[.823,-.842],[.763,-.808],[.725,-.816],[.704,-.808],[.749,-.864],[.749,-.872],[.735,-.838],[.731,-.853],[.752,-.924],[.780,-.902],[.700,-.894],[.704,-.921],[.704,-.939],[.690,-.950],[.690,-.954],[.675,-.939],[.665,-.935],[.658,-.935],[.651,-.943],[.655,-.958],[.645,-.924],[.637,-.931],[.637,-.962],[.644,-.973],[.658,-.980],[.682,-.973],[.704,-.995],[.752,-.957],[.745,-.976],[.756,-.976],[.756,-.991],[.763,-.976],[.773,-.976],[.770,-.980],
[.675,-.812],[.672,-.834],[.655,-.842],[.662,-.838],[.683,-.846],[.697,-.857],[.679,-.883],[.686,-.879],[.595,-.805],[.602,-.798],[.588,-.820],[.616,-.849],[.627,-.857],[.620,-.853],[.578,-.842],[.585,-.868],[.560,-.853],[.554,-.842],[.550,-.853],[.525,-.850],[.515,-.864],[.512,-.864],[.487,-.872],[.505,-.883],[.497,-.894],[.480,-.887],[.536,-.876],[.540,-.879],[.554,-.887],[.585,-.902],[.578,-.909],[.612,-.928],[.602,-.943],[.616,-.950],[.578,-.943],[.616,-.973],[.595,-.969],[.595,-.973],[.536,-.947],[.543,-.950],[.498,-.958],[.494,-.973],[.532,-.976],[.540,-.991],[.560,-.995],[.508,-.987],[.473,-.987],[.445,-.991],[.421,-.987],[.477,-.950],[.459,-.950],[.435,-.950],[.432,-.950],[.424,-.950],[.410,-.954],[.400,-.939],[.389,-.939],[.382,-.965],[.369,-.969],[.365,-.965],[.361,-.991],[.344,-.969],[.490,-.920]
];

var axisColor = '#8c8c8c';
var labelColor = '#6e6e6e';
var fontFamily = '"Liberation Sans", Arial, sans-serif';

function setTicks(values) {
    return function (scale) {
        scale.ticks = values.map(function (v) { return {value: v}; });
    };
}

function toPoints(list) {
    return list.map(function (p) { return {x: p[0], y: p[1]}; });
}

var ctx = document.getElementById('mycanvas');

var chart = new Chart(ctx, {
    type: 'scatter',
    data: {
        datasets: [
            {
                label: 'inside',
                data: toPoints(insidePts),
                backgroundColor: '#ff0000',
                pointStyle: 'rect',
                pointRadius: 2.2,
                borderWidth: 0,
                xAxisID: 'x',
                yAxisID: 'y'
            },
            {
                label: 'outside',
                data: toPoints(outsidePts),
                backgroundColor: '#0000ff',
                pointStyle: 'rect',
                pointRadius: 2.4,
                borderWidth: 0,
                xAxisID: 'x',
                yAxisID: 'y'
            }
        ]
    },
    options: {
        responsive: false,
        animation: false,
        events: [],
        layout: {padding: {left: 70.9, right: 882.9, top: 106.1, bottom: 50.3}},
        plugins: {
            legend: {display: false},
            tooltip: {enabled: false},
            title: {
                display: true,
                text: estimate,
                color: '#585858',
                font: {family: fontFamily, size: 33, weight: 'normal', lineHeight: 1.1},
                padding: {top: 0, bottom: 0.3}
            }
        },
        scales: {
            x: {
                type: 'linear', axis: 'x', min: -1.04, max: 1.04,
                position: {y: 0},
                afterBuildTicks: setTicks(xMajorTicks),
                grid: {drawOnChartArea: false, tickLength: -11, tickColor: axisColor, tickWidth: 1.5},
                border: {display: true, color: axisColor, width: 1.5},
                ticks: {
                    autoSkip: false, maxRotation: 0, padding: 18, color: labelColor,
                    font: {family: fontFamily, size: 27},
                    callback: function (v, i) { return xMajorLabels[i]; }
                }
            },
            xMinor: {
                type: 'linear', axis: 'x', min: -1.04, max: 1.04,
                position: {y: 0},
                afterBuildTicks: setTicks(xMinorTicks),
                grid: {drawOnChartArea: false, tickLength: -7, tickColor: axisColor, tickWidth: 1.5},
                border: {display: false},
                ticks: {display: false}
            },
            y: {
                type: 'linear', axis: 'y', min: -1.11, max: 1.11,
                position: {x: 0},
                afterBuildTicks: setTicks(yMajorTicks),
                grid: {drawOnChartArea: false, tickLength: -12, tickColor: axisColor, tickWidth: 1.5},
                border: {display: true, color: axisColor, width: 1.5},
                ticks: {display: false}
            },
            yLabels: {
                type: 'linear', axis: 'y', min: -1.11, max: 1.11,
                position: {x: -0.026},
                afterBuildTicks: setTicks(yMajorTicks),
                grid: {display: false},
                border: {display: false},
                ticks: {
                    autoSkip: false, padding: 0, color: labelColor,
                    font: {family: fontFamily, size: 27},
                    callback: function (v, i) { return yMajorLabels[i]; }
                }
            },
            yMinor: {
                type: 'linear', axis: 'y', min: -1.11, max: 1.11,
                position: {x: 0},
                afterBuildTicks: setTicks(yMinorTicks),
                grid: {drawOnChartArea: false, tickLength: -7, tickColor: axisColor, tickWidth: 1.5},
                border: {display: false},
                ticks: {display: false}
            }
        }
    }
});
</script>
</body>
</html>
